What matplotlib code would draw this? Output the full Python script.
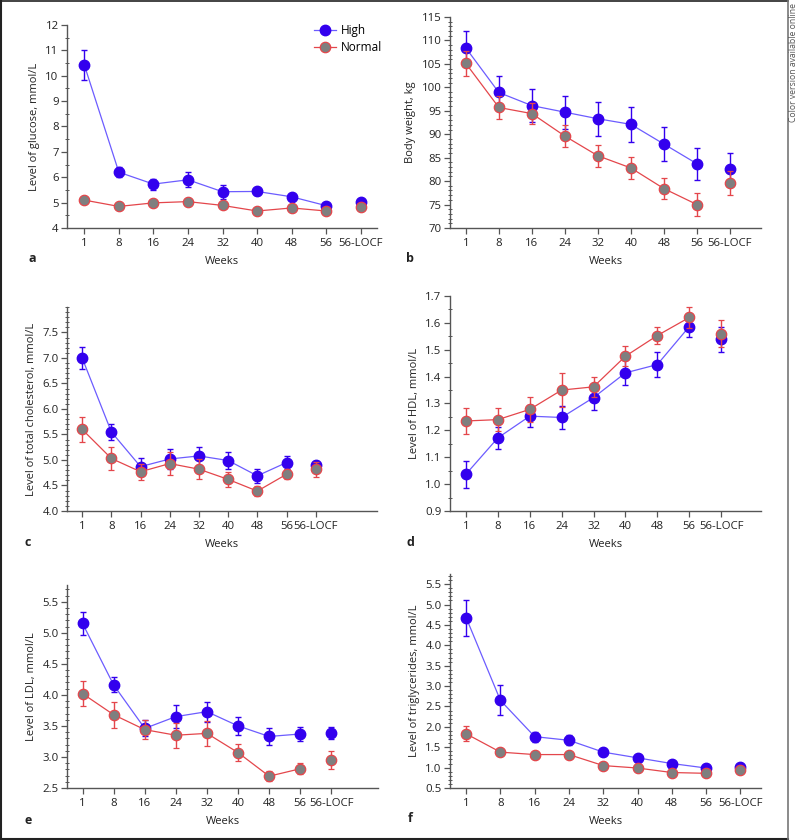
import numpy as np
import matplotlib
matplotlib.use('Agg')
import matplotlib.pyplot as plt
from matplotlib.ticker import MultipleLocator
from matplotlib.lines import Line2D

plt.rcParams['font.family'] = ['Open Sans', 'DejaVu Sans']
plt.rcParams['font.size'] = 8

weeks = ['1', '8', '16', '24', '32', '40', '48', '56', '56-LOCF']

# glucose
glu_high = [10.43, 6.20, 5.73, 5.90, 5.43, 5.44, 5.23, 4.88, 5.04]
glu_high_err = [0.60, 0.20, 0.22, 0.30, 0.27, 0.15, 0.12, 0.10, 0.12]
glu_norm = [5.10, 4.85, 4.99, 5.04, 4.89, 4.67, 4.79, 4.67, 4.83]
glu_norm_err = [0.08, 0.08, 0.08, 0.08, 0.08, 0.08, 0.08, 0.08, 0.08]

# body weight
bw_high = [108.4, 98.9, 96.1, 94.7, 93.3, 92.1, 87.9, 83.7, 82.5]
bw_high_err = [3.7, 3.5, 3.5, 3.5, 3.6, 3.7, 3.7, 3.4, 3.5]
bw_norm = [105.1, 95.7, 94.4, 89.6, 85.4, 82.8, 78.4, 75.0, 79.6]
bw_norm_err = [2.6, 2.4, 2.3, 2.4, 2.4, 2.4, 2.2, 2.4, 2.5]

# total cholesterol
tc_high = [7.00, 5.55, 4.87, 5.02, 5.08, 4.99, 4.69, 4.95, 4.91]
tc_high_err = [0.22, 0.16, 0.16, 0.20, 0.18, 0.17, 0.14, 0.12, 0.08]
tc_norm = [5.60, 5.03, 4.77, 4.93, 4.82, 4.62, 4.39, 4.72, 4.82]
tc_norm_err = [0.25, 0.22, 0.16, 0.22, 0.20, 0.15, 0.10, 0.10, 0.15]

# HDL
hdl_high = [1.037, 1.172, 1.253, 1.248, 1.322, 1.414, 1.445, 1.586, 1.539]
hdl_high_err = [0.05, 0.04, 0.04, 0.043, 0.047, 0.047, 0.045, 0.04, 0.046]
hdl_norm = [1.235, 1.240, 1.278, 1.350, 1.362, 1.476, 1.553, 1.620, 1.560]
hdl_norm_err = [0.05, 0.043, 0.047, 0.064, 0.038, 0.037, 0.03, 0.04, 0.05]

# LDL
ldl_high = [5.15, 4.16, 3.46, 3.65, 3.73, 3.50, 3.33, 3.37, 3.39]
ldl_high_err = [0.18, 0.12, 0.13, 0.18, 0.16, 0.14, 0.14, 0.12, 0.10]
ldl_norm = [4.02, 3.68, 3.44, 3.35, 3.38, 3.07, 2.69, 2.81, 2.95]
ldl_norm_err = [0.20, 0.21, 0.15, 0.20, 0.20, 0.14, 0.08, 0.09, 0.14]

# triglycerides
tg_high = [4.68, 2.65, 1.76, 1.67, 1.38, 1.24, 1.10, 0.99, 1.02]
tg_high_err = [0.44, 0.37, 0.12, 0.12, 0.08, 0.06, 0.05, 0.04, 0.04]
tg_norm = [1.83, 1.38, 1.32, 1.32, 1.05, 0.99, 0.88, 0.86, 0.94]
tg_norm_err = [0.18, 0.06, 0.07, 0.06, 0.04, 0.04, 0.03, 0.03, 0.03]

W, H = 798, 840
fig = plt.figure(figsize=(W / 100, H / 100), dpi=100)

blue = '#3300ee'
blue_line = '#6c5cff'
red = '#e4464b'
grey = '#7f7f7f'
axis_col = '#555555'
text_col = '#222222'


def make_ax(left, right, top, bottom):
    return fig.add_axes([left / W, 1 - bottom / H, (right - left) / W, (bottom - top) / H])


def draw(ax, hi, hi_err, no, no_err, ylabel, ylim, major, minor, xlim, fmt):
    x = np.arange(len(weeks))
    # 56-LOCF point is not joined to the series
    ax.errorbar(x[:8], hi[:8], yerr=hi_err[:8], color=blue_line, ecolor=blue, lw=0.9,
                elinewidth=1, capsize=2.2, capthick=1, marker='o', ms=7.5,
                mfc=blue, mec=blue, zorder=3)
    ax.errorbar(x[8:], hi[8:], yerr=hi_err[8:], ls='none', ecolor=blue,
                elinewidth=1, capsize=2.2, capthick=1, marker='o', ms=7.5,
                mfc=blue, mec=blue, zorder=3)
    ax.errorbar(x[:8], no[:8], yerr=no_err[:8], color=red, ecolor=red, lw=0.9,
                elinewidth=1, capsize=2.2, capthick=1, marker='o', ms=7.5,
                mfc=grey, mec=red, mew=0.9, zorder=4)
    ax.errorbar(x[8:], no[8:], yerr=no_err[8:], ls='none', ecolor=red,
                elinewidth=1, capsize=2.2, capthick=1, marker='o', ms=7.5,
                mfc=grey, mec=red, mew=0.9, zorder=4)
    ax.set_xlim(*xlim)
    ax.set_ylim(*ylim)
    ax.set_xticks(x)
    ax.set_xticklabels(weeks)
    ax.yaxis.set_major_locator(MultipleLocator(major))
    ax.yaxis.set_minor_locator(MultipleLocator(minor))
    ax.yaxis.set_major_formatter(fmt)
    for s in ['top', 'right']:
        ax.spines[s].set_visible(False)
    for s in ['left', 'bottom']:
        ax.spines[s].set_color(axis_col)
        ax.spines[s].set_linewidth(1)
    ax.tick_params(axis='both', which='major', length=4, width=0.9, color=axis_col,
                   labelsize=8.2, pad=2, labelcolor=text_col)
    ax.tick_params(axis='x', which='major', pad=3.5)
    ax.tick_params(axis='y', which='minor', length=3, width=0.7, color=axis_col,
                   direction='inout')
    ax.set_ylabel(ylabel, fontsize=8, labelpad=4, color=text_col)
    ax.set_xlabel('Weeks', fontsize=8, labelpad=4.5, color=text_col)
    ax.patch.set_alpha(0)


ax_a = make_ax(67, 377, 25, 228)
draw(ax_a, glu_high, glu_high_err, glu_norm, glu_norm_err,
     'Level of glucose, mmol/L', (4, 12), 1, 0.5, (-0.5, 8.47), '{x:.0f}')
handles = [Line2D([], [], color=blue_line, lw=0.9, marker='o', ms=7.5, mfc=blue, mec=blue),
           Line2D([], [], color=red, lw=0.9, marker='o', ms=7.5, mfc=grey, mec=red, mew=0.9)]
ax_a.legend(handles, ['High', 'Normal'], loc='upper left', frameon=False, fontsize=8.5,
            handlelength=1.9, handletextpad=0.35, labelspacing=0.35, borderpad=0,
            borderaxespad=0, bbox_to_anchor=(314 / W, 1 - 24 / H),
            bbox_transform=fig.transFigure)

ax_b = make_ax(450, 761, 17, 228)
draw(ax_b, bw_high, bw_high_err, bw_norm, bw_norm_err,
     'Body weight, kg', (70, 115), 5, 1, (-0.48, 8.94), '{x:.0f}')

ax_c = make_ax(67, 377, 307, 511)
draw(ax_c, tc_high, tc_high_err, tc_norm, tc_norm_err,
     'Level of total cholesterol, mmol/L', (4, 8), 0.5, 0.1, (-0.52, 10.1), '{x:.1f}')
ax_c.set_yticks([4.0, 4.5, 5.0, 5.5, 6.0, 6.5, 7.0, 7.5])

ax_d = make_ax(450, 761, 296, 511)
draw(ax_d, hdl_high, hdl_high_err, hdl_norm, hdl_norm_err,
     'Level of HDL, mmol/L', (0.9, 1.7), 0.1, 0.05, (-0.5, 9.25), '{x:.1f}')

ax_e = make_ax(67, 378, 585, 788)
draw(ax_e, ldl_high, ldl_high_err, ldl_norm, ldl_norm_err,
     'Level of LDL, mmol/L', (2.5, 5.77), 0.5, 0.1, (-0.5, 9.5), '{x:.1f}')

ax_f = make_ax(450, 761, 574, 788)
draw(ax_f, tg_high, tg_high_err, tg_norm, tg_norm_err,
     'Level of triglycerides, mmol/L', (0.5, 5.75), 0.5, 0.1, (-0.47, 8.6), '{x:.1f}')

# panel letters
for letter, px, py in [('a', 32, 258), ('b', 410, 258), ('c', 28, 543),
                       ('d', 410, 543), ('e', 28, 820), ('f', 410, 818)]:
    fig.text(px / W, 1 - py / H, letter, fontsize=9, fontweight='bold',
             ha='center', va='center', color=text_col)

# outer frame and side note
fig.add_artist(Line2D([0.5 / W, 788 / W], [1 - 0.5 / H, 1 - 0.5 / H], color='#222222', lw=1.2))
fig.add_artist(Line2D([0.8 / W, 0.8 / W], [1 - 0.5 / H, 1 - 838.5 / H], color='#222222', lw=1.5))
fig.add_artist(Line2D([0.5 / W, 788 / W], [1 - 838.5 / H, 1 - 838.5 / H], color='#222222', lw=1.5))
fig.add_artist(Line2D([788 / W, 788 / W], [1 - 0.5 / H, 1 - 838.5 / H], color='#777777', lw=1.2))
fig.text(793.5 / W, 1 - 3 / H, 'Color version available online', rotation=90,
         ha='center', va='top', fontsize=6.2, color='#555555')

fig.savefig('out.png', dpi=100)
